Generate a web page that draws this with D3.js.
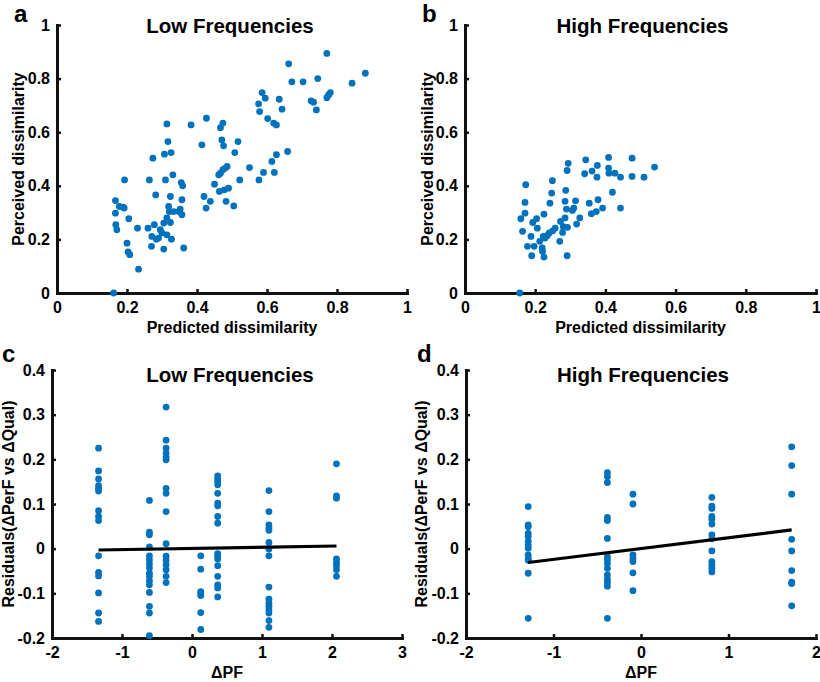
<!DOCTYPE html>
<meta charset="utf-8">
<script src="https://d3js.org/d3.v7.min.js"></script>
<style>
  body { margin: 0; background: #fff; }
  text { font-family: "Liberation Sans", Arial, sans-serif; font-weight: bold; fill: #000; }
</style>
<div id="my_dataviz"></div>
<script>

// panel a: low frequencies, predicted vs perceived dissimilarity
var lowPredicted = [0.162,0.233,0.167,0.167,0.168,0.171,0.178,0.189,0.192,0.193,0.2,0.203,0.208,0.205,0.230,
  0.26,0.264,0.27,0.271,0.274,0.278,0.282,0.284,0.29,0.3,0.295,0.305,0.305,0.307,0.31,0.314,0.314,0.314,0.317,
  0.319,0.321,0.324,0.326,0.324,0.327,0.331,0.333,0.348,0.352,0.355,0.357,0.359,0.357,0.362,0.383,0.414,0.42,
  0.426,0.427,0.438,0.45,0.462,0.467,0.464,0.467,0.471,0.474,0.476,0.474,0.481,0.486,0.478,0.49,0.483,0.505,
  0.508,0.517,0.522,0.55,0.576,0.577,0.579,0.586,0.590,0.595,0.602,0.619,0.627,0.635,0.614,0.621,0.627,0.643,
  0.659,0.662,0.671,0.703,0.726,0.733,0.741,0.745,0.771,0.771,0.776,0.781,0.843,0.881];
var lowPerceived = [0.0,0.089,0.298,0.345,0.255,0.236,0.323,0.32,0.317,0.422,0.186,0.153,0.143,0.277,0.242,
  0.242,0.422,0.174,0.211,0.503,0.255,0.366,0.201,0.205,0.224,0.236,0.164,0.261,0.518,0.422,0.631,0.217,0.28,0.565,
  0.323,0.304,0.263,0.524,0.36,0.201,0.441,0.304,0.304,0.313,0.412,0.348,0.4,0.292,0.168,0.627,0.553,0.36,
  0.317,0.652,0.342,0.406,0.441,0.447,0.379,0.617,0.571,0.634,0.549,0.46,0.466,0.472,0.385,0.391,0.342,0.325,
  0.524,0.565,0.422,0.468,0.706,0.422,0.677,0.748,0.45,0.727,0.651,0.634,0.627,0.723,0.491,0.45,0.516,0.686,
  0.528,0.855,0.788,0.788,0.717,0.712,0.683,0.8,0.894,0.729,0.739,0.748,0.783,0.82];

// panel b: high frequencies
var highPredicted = [0.156,0.159,0.164,0.171,0.171,0.173,0.178,0.188,0.19,0.193,0.197,0.204,0.206,0.213,0.22,
  0.223,0.221,0.225,0.225,0.228,0.234,0.24,0.242,0.247,0.249,0.25,0.257,0.27,0.272,0.278,0.28,0.285,0.285,0.287,
  0.289,0.291,0.291,0.294,0.292,0.306,0.31,0.315,0.318,0.327,0.341,0.344,0.354,0.36,0.362,0.374,0.376,0.377,
  0.379,0.392,0.409,0.409,0.41,0.42,0.427,0.443,0.443,0.476,0.476,0.51,0.54];
var highPerceived = [0.0,0.277,0.23,0.338,0.298,0.404,0.174,0.211,0.139,0.263,0.174,0.277,0.242,0.193,0.168,
  0.211,0.155,0.134,0.294,0.205,0.214,0.224,0.335,0.373,0.419,0.232,0.242,0.193,0.267,0.226,0.248,0.28,0.342,0.383,
  0.313,0.139,0.457,0.484,0.245,0.308,0.317,0.344,0.257,0.28,0.445,0.497,0.335,0.296,0.455,0.304,0.432,0.476,
  0.348,0.317,0.506,0.466,0.447,0.376,0.447,0.432,0.317,0.503,0.435,0.432,0.47];

// panel c: residuals vs delta PF, low frequencies (one list per PF level)
var lowPF = [-1.335, -0.608, -0.37, 0.125, 0.367, 1.099, 2.064];
var lowResid = [
  [0.225,0.174,0.156,0.141,0.135,0.129,0.085,0.072,0.063,-0.016,-0.053,-0.061,-0.099,-0.144,-0.163],
  [0.108,0.037,0.031,0.004,-0.016,-0.025,-0.034,-0.043,-0.055,-0.062,-0.072,-0.081,-0.098,-0.129,-0.144,-0.195],
  [0.317,0.243,0.225,0.214,0.205,0.199,0.135,0.124,0.083,0.011,-0.017,-0.026,-0.036,-0.047,-0.062,-0.076],
  [-0.016,-0.046,-0.096,-0.099,-0.105,-0.143,-0.181],
  [0.163,0.156,0.15,0.143,0.124,0.102,0.096,0.072,0.057,-0.011,-0.017,-0.023,-0.038,-0.062,-0.081,-0.088,-0.108],
  [0.13,0.083,0.053,0.046,0.041,0.014,-0.001,-0.016,-0.086,-0.113,-0.122,-0.129,-0.137,-0.144,-0.161,-0.176],
  [0.19,0.118,0.113,-0.023,-0.031,-0.038,-0.047,-0.062]
];
var lowFitX = [-1.335, 2.064];
var lowFitY = [-0.003, 0.006];

// panel d: residuals vs delta PF, high frequencies
var highPF = [-1.289, -0.384, -0.092, 0.81, 1.722];
var highResid = [
  [0.094,0.053,0.049,0.034,0.027,0.016,0.008,0.001,-0.014,-0.022,-0.026,-0.055,-0.156],
  [0.17,0.161,0.148,0.07,0.063,0.023,-0.018,-0.025,-0.033,-0.044,-0.059,-0.069,-0.076,-0.084,-0.156],
  [0.122,0.1,-0.014,-0.022,-0.029,-0.054,-0.094],
  [0.115,0.095,0.09,0.072,0.066,0.055,0.031,0.022,-0.005,-0.029,-0.037,-0.044,-0.052],
  [0.228,0.186,0.122,0.021,-0.005,-0.049,-0.078,-0.075,-0.128]
];
var highFitX = [-1.289, 1.722];
var highFitY = [-0.031, 0.042];

var dissimTicks = [0, 0.2, 0.4, 0.6, 0.8, 1];
var residTicks = [-0.2, -0.1, 0, 0.1, 0.2, 0.3, 0.4];
var lowPFTicks = [-2, -1, 0, 1, 2, 3];
var highPFTicks = [-2, -1, 0, 1, 2];

var blue = "#0072BD";
var fmt = function(d) { return String(Math.round(d * 10) / 10); };

var svg = d3.select("#my_dataviz")
  .append("svg")
    .attr("width", 820)
    .attr("height", 682);

function flatten(levels, resid) {
  var pts = [];
  levels.forEach(function(x, i) {
    resid[i].forEach(function(y) { pts.push([x, y]); });
  });
  return pts;
}

function panel(p) {
  var x = d3.scaleLinear().domain(p.xDomain).range([p.left, p.right]);
  var y = d3.scaleLinear().domain(p.yDomain).range([p.bottom, p.top]);

  var xAxis = svg.append("g")
    .attr("transform", "translate(0," + p.bottom + ")")
    .call(d3.axisBottom(x).tickValues(p.xTicks).tickFormat(fmt)
      .tickSizeInner(-4).tickSizeOuter(0).tickPadding(9));
  var yAxis = svg.append("g")
    .attr("transform", "translate(" + p.left + ",0)")
    .call(d3.axisLeft(y).tickValues(p.yTicks).tickFormat(fmt)
      .tickSizeInner(-4).tickSizeOuter(0).tickPadding(7));

  [xAxis, yAxis].forEach(function(a) {
    a.select(".domain").attr("stroke", "#111").attr("stroke-width", 3).attr("stroke-linecap", "square");
    a.selectAll(".tick line").attr("stroke", "#111").attr("stroke-width", 2.5);
    a.selectAll(".tick text")
      .style("font-family", "'Liberation Sans', Arial, sans-serif")
      .style("font-weight", "bold")
      .style("font-size", "16px")
      .attr("fill", "#111");
  });

  svg.append("g").selectAll("circle")
    .data(p.points)
    .enter()
    .append("circle")
      .attr("cx", function(d) { return x(d[0]); })
      .attr("cy", function(d) { return y(d[1]); })
      .attr("r", 3.4)
      .attr("fill", blue);

  // fit line sits on top of the dots
  if (p.fitX) {
    svg.append("path")
      .datum(p.fitX.map(function(v, i) { return [v, p.fitY[i]]; }))
      .attr("fill", "none")
      .attr("stroke", "#000")
      .attr("stroke-width", 3.2)
      .attr("d", d3.line().x(function(d) { return x(d[0]); }).y(function(d) { return y(d[1]); }));
  }

  var cx = (p.left + p.right) / 2;
  svg.append("text")
    .attr("x", cx + p.titleShift).attr("y", p.top + p.titleY)
    .attr("text-anchor", "middle")
    .style("font-size", "20.5px")
    .text(p.title);
  svg.append("text")
    .attr("x", cx).attr("y", p.bottom + 40)
    .attr("text-anchor", "middle")
    .style("font-size", "16px")
    .text(p.xLabel);
  svg.append("text")
    .attr("transform", "translate(" + p.yLabelX + "," + ((p.top + p.bottom) / 2) + ") rotate(-90)")
    .attr("text-anchor", "middle")
    .attr("dy", "0.35em")
    .style("font-size", "16px")
    .text(p.yLabel);
  svg.append("text")
    .attr("x", p.letterX).attr("y", p.letterY)
    .style("font-size", "24px")
    .text(p.letter);
}

panel({
  letter: "a", letterX: 14, letterY: 22,
  left: 57, right: 407, top: 25, bottom: 293,
  xDomain: [0, 1], yDomain: [0, 1], xTicks: dissimTicks, yTicks: dissimTicks,
  points: lowPredicted.map(function(v, i) { return [v, lowPerceived[i]]; }),
  title: "Low Frequencies", titleShift: -2, titleY: 8,
  xLabel: "Predicted dissimilarity", yLabel: "Perceived dissimilarity", yLabelX: 18
});
panel({
  letter: "b", letterX: 422, letterY: 22,
  left: 465, right: 816, top: 25, bottom: 293,
  xDomain: [0, 1], yDomain: [0, 1], xTicks: dissimTicks, yTicks: dissimTicks,
  points: highPredicted.map(function(v, i) { return [v, highPerceived[i]]; }),
  title: "High Frequencies", titleShift: 2, titleY: 8,
  xLabel: "Predicted dissimilarity", yLabel: "Perceived dissimilarity", yLabelX: 427
});
panel({
  letter: "c", letterX: 2, letterY: 362,
  left: 52, right: 402, top: 370, bottom: 638,
  xDomain: [-2, 3], yDomain: [-0.2, 0.4], xTicks: lowPFTicks, yTicks: residTicks,
  points: flatten(lowPF, lowResid), fitX: lowFitX, fitY: lowFitY,
  title: "Low Frequencies", titleShift: 3, titleY: 12,
  xLabel: "\u0394PF", yLabel: "Residuals(\u0394PerF vs \u0394Qual)", yLabelX: 8
});
panel({
  letter: "d", letterX: 417, letterY: 362,
  left: 466, right: 816, top: 370, bottom: 638,
  xDomain: [-2, 2], yDomain: [-0.2, 0.4], xTicks: highPFTicks, yTicks: residTicks,
  points: flatten(highPF, highResid), fitX: highFitX, fitY: highFitY,
  title: "High Frequencies", titleShift: 2, titleY: 12,
  xLabel: "\u0394PF", yLabel: "Residuals(\u0394PerF vs \u0394Qual)", yLabelX: 421
});

</script>
</body>
</html>
